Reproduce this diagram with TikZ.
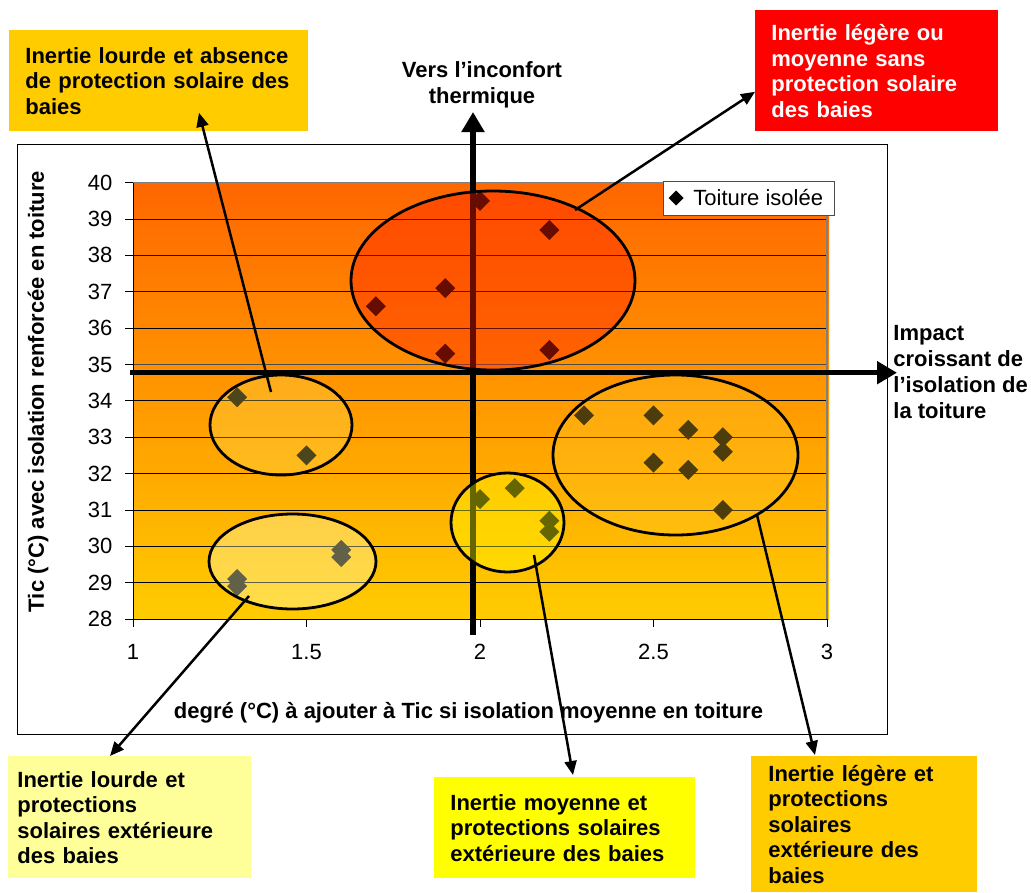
\documentclass[tikz,border=0pt]{standalone}
\usepackage{fontspec}
\setmainfont{Liberation Sans}
\usetikzlibrary{arrows.meta}

\definecolor{orangeHaut}{HTML}{FF6600}
\definecolor{orangeBas}{HTML}{FFCC00}
\definecolor{jauneClair}{HTML}{FFFF99}
\definecolor{jauneVif}{HTML}{FFFF00}
\definecolor{rougeVif}{HTML}{FF0000}

\tikzset{
	encadre/.style = {anchor = north west, align = left, inner ysep = 0pt,
		font = \bfseries\fontsize{22}{25.5}\selectfont},
	titre/.style = {font = \bfseries\fontsize{22}{26}\selectfont},
	graduation/.style = {font = \fontsize{22}{26}\selectfont},
	fleche/.style = {line width = 2.5pt, -{Triangle[length = 14pt, width = 12pt]}},
	axe/.style = {line width = 5.5pt, -{Triangle[length = 20pt, width = 22pt]}},
	zone/.style = {draw = black, line width = 2.8pt},
}

\begin{document}
\begin{tikzpicture}[x = 1pt, y = -1pt, line width = 0.8pt]
	\useasboundingbox (0, 0) rectangle (1031, 892);

	% Cadre du graphique:
	\draw (17, 144) rectangle (887, 734);

	% Zone de trace:
	\shade [top color = orangeHaut, bottom color = orangeBas] (133, 182.7) rectangle (829, 619);

	\begin{scope}[shift = {(133, 619)}, x = 347pt, y = 36.36pt]
		\foreach \t in {29, ..., 39} {
			\draw (0, \t - 28) -- (2, \t - 28);
		}
		\draw [black!70, line width = 1.8pt] (0, 7) -- (2, 7);
		\draw [black!50, line width = 1.5pt] (0, 12) -- (2, 12) -- (2, 0);
		\draw (0, 12) -- (0, 0) -- (2, 0);

		% Graduations:
		\foreach \t in {28, ..., 40} {
			\draw (0, \t - 28) -- ++(-8pt, 0pt);
			\node [graduation, anchor = east] (gy\t) at ([xshift = -17pt] 0, \t - 28) {\t};
		}
		\foreach \u/\lab [count = \i] in {0/1, 0.5/1.5, 1/2, 1.5/2.5, 2/3} {
			\draw (\u, 0) -- ++(0pt, -8pt);
			\node [graduation] (gx\i) at ([yshift = -33pt] \u, 0) {\lab};
		}
	\end{scope}

	% Fleches de tendance:
	\coordinate (axeHdebut) at (130, 372.7);
	\coordinate (axeHfin) at (897, 372.7);
	\coordinate (axeVdebut) at (473, 635);
	\coordinate (axeVfin) at (473, 112);
	\draw [axe] (axeHdebut) -- (axeHfin);
	\draw [axe] (axeVdebut) -- (axeVfin);

	% Points:
	\begin{scope}[shift = {(133, 619)}, x = 347pt, y = 36.36pt]
		\foreach \u/\v in {1.7/36.6, 1.9/37.1, 1.9/35.3, 2.0/39.5, 2.2/38.7, 2.2/35.4,
				1.3/34.1, 1.5/32.5, 1.3/29.1, 1.3/28.9, 1.6/29.9, 1.6/29.7,
				2.0/31.3, 2.1/31.6, 2.2/30.7, 2.2/30.4,
				2.3/33.6, 2.5/33.6, 2.6/33.2, 2.7/33.0, 2.7/32.6, 2.5/32.3, 2.6/32.1, 2.7/31.0} {
			\fill (\u - 1, \v - 28) +(0pt, 10pt) -- +(10pt, 0pt) -- +(0pt, -10pt) -- +(-10pt, 0pt) -- cycle;
		}
	\end{scope}

	% Zones:
	\draw [zone, fill = {rgb,255:red,255;green,30;blue,0}, fill opacity = 0.4]
		(493, 280.5) ellipse [x radius = 142pt, y radius = 89.5pt];
	\draw [zone, fill = {rgb,255:red,255;green,230;blue,90}, fill opacity = 0.3]
		(281, 425) ellipse [x radius = 71pt, y radius = 50pt];
	\draw [zone, fill = {rgb,255:red,255;green,255;blue,190}, fill opacity = 0.38]
		(292.5, 561.5) ellipse [x radius = 83.5pt, y radius = 47.5pt];
	\draw [zone, fill = jauneVif, fill opacity = 0.4]
		(507.5, 522.5) ellipse [x radius = 56.5pt, y radius = 49.5pt];
	\draw [zone, fill = {rgb,255:red,255;green,205;blue,40}, fill opacity = 0.3]
		(675.5, 455) ellipse [x radius = 122.5pt, y radius = 80pt];

	% Legende:
	\draw [black!70, fill = white] (663, 181) rectangle (834, 215);
	\fill (676, 198) +(0pt, 7.5pt) -- +(7.5pt, 0pt) -- +(0pt, -7.5pt) -- +(-7.5pt, 0pt) -- cycle;
	\node [graduation, anchor = west, inner sep = 0pt] (legende) at (693, 198) {Toiture isolée};

	% Titres des axes:
	\node [titre] (titreX) at (468.5, 713) {degré (°C) à ajouter à Tic si isolation moyenne en toiture};
	\node [titre, rotate = 90] (titreY) at (38, 391.5) {Tic (°C) avec isolation renforcée en toiture};
	\node [titre, align = center] (versInconfort) at (482, 85) {Vers l’inconfort\\thermique};
	\node [titre, align = left, anchor = west, inner sep = 0pt] (impact) at (893, 372)
		{Impact\\croissant de\\l’isolation de\\la toiture};

	% Encadres:
	\node [encadre, fill = orangeBas, inner xsep = 16pt, text width = 267pt, minimum height = 101pt]
		(boxLourdeA) at (9, 30) {Inertie lourde et absence\\de protection solaire des\\baies};
	\node [encadre, fill = rougeVif, text = white, inner xsep = 16pt, text width = 211pt, minimum height = 121pt]
		(boxRouge) at (755, 10) {Inertie légère ou\\moyenne sans\\protection solaire\\des baies};
	\node [encadre, fill = jauneClair, inner xsep = 9pt, text width = 225pt, minimum height = 122pt]
		(boxLourdeB) at (8, 756) {Inertie lourde et\\protections\\solaires extérieure\\des baies};
	\node [encadre, fill = jauneVif, inner xsep = 16pt, text width = 229pt, minimum height = 101pt]
		(boxMoyenne) at (434, 777) {Inertie moyenne et\\protections solaires\\extérieure des baies};
	\node [encadre, fill = orangeBas, inner xsep = 17pt, text width = 192pt, minimum height = 136pt]
		(boxLegere) at (751, 756) {Inertie légère et\\protections\\solaires\\extérieure des\\baies};

	% Renvois:
	\coordinate (cLourdeA) at (271, 392);
	\coordinate (cRouge) at (575, 210);
	\coordinate (cLourdeB) at (249, 596);
	\coordinate (cMoyenne) at (534, 555);
	\coordinate (cLegere) at (757, 515);
	\draw [fleche] (cLourdeA) -- ([xshift = 190pt, yshift = 19pt] boxLourdeA.south west);
	\draw [fleche] (cRouge) -- ([yshift = 40pt] boxRouge.south west);
	\draw [fleche] (cLourdeB) -- ([xshift = 102pt] boxLourdeB.north west);
	\draw [fleche] (cMoyenne) -- ([xshift = 139pt, yshift = 2pt] boxMoyenne.north west);
	\draw [fleche] (cLegere) -- ([xshift = 64pt, yshift = 1pt] boxLegere.north west);
\end{tikzpicture}
\end{document}
